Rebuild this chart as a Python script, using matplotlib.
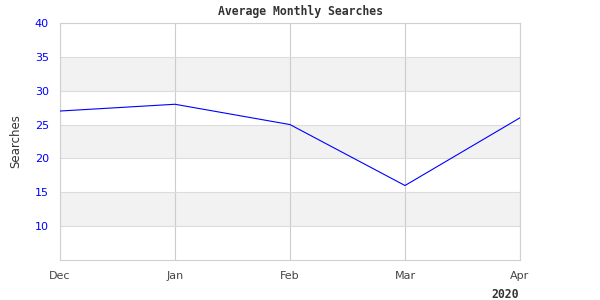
import matplotlib
matplotlib.use("Agg")
import matplotlib.pyplot as plt

months = ["Dec", "Jan", "Feb", "Mar", "Apr"]
searches = [27, 28, 25, 16, 26]
yticks = [10, 15, 20, 25, 30, 35, 40]
bands = [(10, 15), (20, 25), (30, 35)]

fig = plt.figure(figsize=(6, 3), dpi=100)
ax = fig.add_axes([60/600, 1-260/300, 460/600, 237/300])

x = list(range(len(months)))
for lo, hi in bands:
    ax.axhspan(lo, hi, color="#f2f2f2", zorder=0, lw=0)
ax.plot(x, searches, color="#0000ff", lw=0.8, zorder=3)
ax.set_xlim(0, len(months) - 1)
ax.set_ylim(5, 40)
ax.set_xticks(x)
ax.set_xticklabels(months, color="#444444", fontsize=8)
ax.set_yticks(yticks)
ax.set_yticklabels([str(v) for v in yticks], color="#0000ff", fontsize=8)
ax.tick_params(length=0, pad=8)
ax.tick_params(axis="x", pad=8)
ax.grid(True, axis="y", color="#dcdcdc", lw=0.8, zorder=1)
ax.grid(True, axis="x", color="#cccccc", lw=0.8, zorder=1)
ax.set_axisbelow(True)
for s in ax.spines.values():
    s.set_color("#d0d0d0")
    s.set_linewidth(0.8)
ax.set_ylabel("Searches", fontsize=8.5, color="#333333", labelpad=9)
fig.text(300/600, 1-12/300, "Average Monthly Searches", ha="center", va="center",
         fontsize=8.3, family="DejaVu Sans Mono", weight="bold", color="#333333")
fig.text(505/600, 1-294/300, "2020", ha="center", va="center",
         fontsize=8.3, family="DejaVu Sans Mono", weight="bold", color="#333333")
fig.savefig("out.png", dpi=100)
